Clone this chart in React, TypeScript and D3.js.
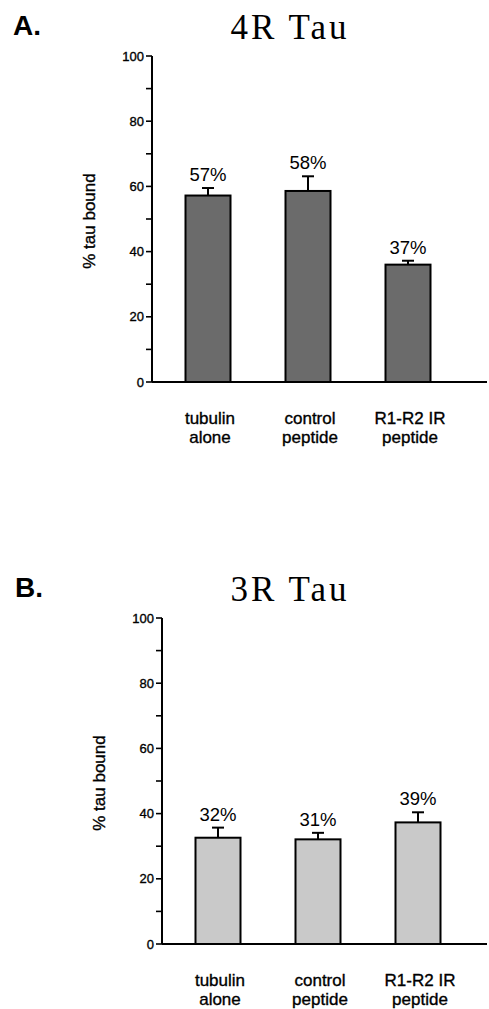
import React from "react";
import * as d3 from "d3";

const categories = [["tubulin", "alone"], ["control", "peptide"], ["R1-R2 IR", "peptide"]];
const yTicks = [0, 20, 40, 60, 80, 100];
const yMinorTicks = [10, 30, 50, 70, 90];

const tau4Values = [57.2, 58.6, 36];
const tau4Errors = [2.3, 4.5, 1.2];
const tau4Labels = ["57%", "58%", "37%"];

const tau3Values = [32.6, 32.1, 37.3];
const tau3Errors = [3.1, 2.0, 3.1];
const tau3Labels = ["32%", "31%", "39%"];

const sans = "'Liberation Sans', Arial, Helvetica, sans-serif";
const serif = "'Liberation Serif', 'Times New Roman', serif";

function Panel(props) {
  const {top, axisX, letter, title, values, errors, labels, fill, letterX} = props;
  const y0 = top + 326;
  const y = d3.scaleLinear().domain([0, 100]).range([y0, top]);
  const x = d3
    .scaleBand()
    .domain(categories.map((c) => c.join(" ")))
    .range([axisX + 6, axisX + 306])
    .paddingInner(0.55)
    .paddingOuter(0.275);
  const bw = x.bandwidth();
  // slight outline to thicken the scanned-looking text
  const heavy = {stroke: "#000", strokeWidth: 0.35};

  return (
    <g>
      <text x={letterX} y={top - 21} fontFamily={sans} fontWeight="bold" fontSize={28}>{letter}</text>
      <text x={290} y={top - 17} fontFamily={serif} fontSize={35} letterSpacing={3} textAnchor="middle">{title}</text>

      {/* y axis */}
      <line x1={axisX} x2={axisX} y1={top} y2={y0} stroke="#000" strokeWidth={2} />
      {yTicks.concat(yMinorTicks).map((t) => (
        <line key={t} x1={axisX - 6} x2={axisX} y1={y(t)} y2={y(t)} stroke="#000" strokeWidth={1.6} />
      ))}
      {yTicks.map((t) => (
        <text key={t} x={axisX - 8} y={y(t)} dy="0.35em" textAnchor="end" fontFamily={sans} fontSize={13} {...heavy}>{t}</text>
      ))}
      <text
        transform={`translate(${axisX - 57},${top + 165}) rotate(-90)`}
        textAnchor="middle"
        fontFamily={sans}
        fontSize={17}
        {...heavy}
      >% tau bound</text>

      {/* x axis */}
      <line x1={axisX} x2={487} y1={y0} y2={y0} stroke="#000" strokeWidth={2} />

      {categories.map((c, i) => {
        const key = c.join(" ");
        const cx = x(key) + bw / 2;
        const topErr = y(values[i] + errors[i]);
        return (
          <g key={key}>
            <rect x={x(key)} y={y(values[i])} width={bw} height={y0 - y(values[i])} fill={fill} stroke="#000" strokeWidth={2} />
            <line x1={cx} x2={cx} y1={y(values[i])} y2={topErr} stroke="#000" strokeWidth={2} />
            <line x1={cx - 6} x2={cx + 6} y1={topErr} y2={topErr} stroke="#000" strokeWidth={2} />
            <text x={cx} y={topErr - 7} textAnchor="middle" fontFamily={sans} fontSize={18.5}>{labels[i]}</text>
            <text x={cx + 2} y={y0 + 42} textAnchor="middle" fontFamily={sans} fontSize={17} {...heavy}>{c[0]}</text>
            <text x={cx + 2} y={y0 + 61} textAnchor="middle" fontFamily={sans} fontSize={17} {...heavy}>{c[1]}</text>
          </g>
        );
      })}
    </g>
  );
}

export default function App() {
  return (
    <svg width={489} height={1009} style={{position: "absolute", left: 0, top: 0, background: "#fff"}}>
      <Panel top={56} axisX={152} letter="A." letterX={13} title="4R Tau"
        values={tau4Values} errors={tau4Errors} labels={tau4Labels} fill="#6b6b6b" />
      <Panel top={618} axisX={162} letter="B." letterX={15} title="3R Tau"
        values={tau3Values} errors={tau3Errors} labels={tau3Labels} fill="#c9c9c9" />
    </svg>
  );
}
